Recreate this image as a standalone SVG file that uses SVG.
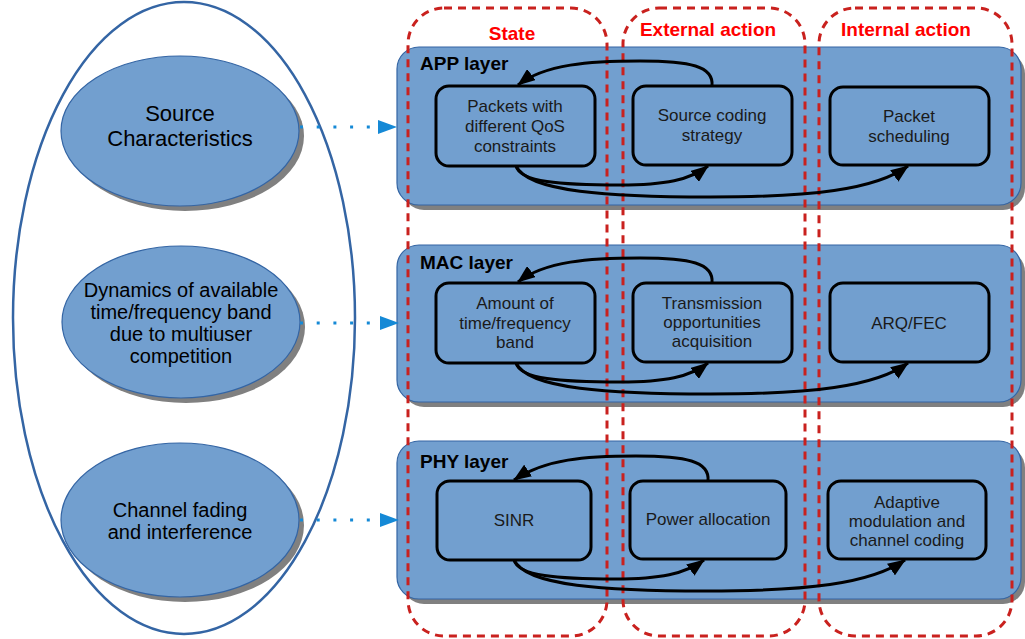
<svg xmlns="http://www.w3.org/2000/svg" width="1025" height="639" viewBox="0 0 1025 639">
<defs>
<style>
.shadow{fill:#808080}
.ell{fill:#729fcf;stroke:#3465a4;stroke-width:1.2}
.layer{fill:#729fcf;stroke:#3465a4;stroke-width:1.2}
.box{fill:#729fcf;stroke:#000;stroke-width:3}
.etxt{font-family:"Liberation Sans",Arial,sans-serif;fill:#000;text-anchor:middle}
.btxt{font-family:"Liberation Sans",Arial,sans-serif;font-size:17px;fill:#1a1a1a;text-anchor:middle}
.ltxt{font-family:"Liberation Sans",Arial,sans-serif;font-size:19px;font-weight:bold;fill:#000}
.ctxt{font-family:"Liberation Sans",Arial,sans-serif;font-size:19px;font-weight:bold;fill:#ff0000;text-anchor:middle}
.col{fill:none;stroke:#c9211e;stroke-width:3;stroke-dasharray:8 6}
.conn{fill:none;stroke:#000;stroke-width:3;marker-end:url(#ah)}
.dot{fill:none;stroke:#1589d6;stroke-width:3;stroke-dasharray:3 13.7;marker-end:url(#bh)}
</style>
<marker id="ah" viewBox="0 0 18 14" refX="17" refY="7" markerWidth="18" markerHeight="14" markerUnits="userSpaceOnUse" orient="auto">
<path d="M0,0 L18,7 L0,14 z" fill="#000"/>
</marker>
<marker id="bh" viewBox="0 0 19 14" refX="19" refY="7" markerWidth="19" markerHeight="14" markerUnits="userSpaceOnUse" orient="auto">
<path d="M0,0 L19,7 L0,14 z" fill="#1589d6"/>
</marker>
</defs>
<rect width="1025" height="639" fill="#fff"/>

<g id="outer-ellipse">
<ellipse cx="184" cy="318" rx="171" ry="316" fill="none" stroke="#3465a4" stroke-width="2.5"/>
</g>

<g id="source-char">
<ellipse class="shadow" cx="185" cy="136" rx="119" ry="75"/>
<ellipse class="ell" cx="180" cy="131" rx="119" ry="75"/>
<text class="etxt" font-size="22" x="180" y="121">Source</text>
<text class="etxt" font-size="22" x="180" y="146">Characteristics</text>
</g>
<g id="dynamics">
<ellipse class="shadow" cx="186" cy="327" rx="119" ry="76"/>
<ellipse class="ell" cx="181" cy="322" rx="119" ry="76"/>
<text class="etxt" font-size="20" x="181" y="297">Dynamics of available</text>
<text class="etxt" font-size="20" x="181" y="319">time/frequency band</text>
<text class="etxt" font-size="20" x="181" y="341">due to multiuser</text>
<text class="etxt" font-size="20" x="181" y="363">competition</text>
</g>
<g id="channel">
<ellipse class="shadow" cx="185" cy="525" rx="119" ry="77"/>
<ellipse class="ell" cx="180" cy="520" rx="119" ry="77"/>
<text class="etxt" font-size="20" x="180" y="517">Channel fading</text>
<text class="etxt" font-size="20" x="180" y="539">and interference</text>
</g>

<g id="app-layer">
<rect class="shadow" x="402" y="52" width="623" height="158" rx="22"/>
<rect class="layer" x="397" y="47" width="624" height="158" rx="22"/>
<text class="ltxt" x="420" y="70">APP layer</text>
</g>
<g id="mac-layer">
<rect class="shadow" x="402" y="250" width="623" height="157" rx="22"/>
<rect class="layer" x="397" y="245" width="624" height="157" rx="22"/>
<text class="ltxt" x="420" y="269">MAC layer</text>
</g>
<g id="phy-layer">
<rect class="shadow" x="402" y="446" width="623" height="158" rx="22"/>
<rect class="layer" x="397" y="441" width="624" height="158" rx="22"/>
<text class="ltxt" x="420" y="468">PHY layer</text>
</g>

<g id="columns">
<rect class="col" x="408" y="8" width="199" height="628" rx="36"/>
<rect class="col" x="623" y="8" width="182" height="628" rx="36"/>
<rect class="col" x="819" y="8" width="193" height="628" rx="36"/>
<text class="ctxt" x="512" y="40">State</text>
<text class="ctxt" x="708" y="36">External action</text>
<text class="ctxt" x="906" y="36">Internal action</text>
</g>

<g id="app-packets">
<rect class="box" x="436" y="86" width="159" height="80" rx="13"/>
<text class="btxt" x="515" y="112">Packets with</text>
<text class="btxt" x="515" y="132">different QoS</text>
<text class="btxt" x="515" y="152">constraints</text>
</g>
<g id="app-source-coding">
<rect class="box" x="633" y="86" width="159" height="79" rx="13"/>
<text class="btxt" x="712" y="121">Source coding</text>
<text class="btxt" x="712" y="141">strategy</text>
</g>
<g id="app-scheduling">
<rect class="box" x="830" y="87" width="159" height="78" rx="13"/>
<text class="btxt" x="909" y="122">Packet</text>
<text class="btxt" x="909" y="142">scheduling</text>
</g>

<g id="mac-amount">
<rect class="box" x="436" y="283" width="159" height="80" rx="13"/>
<text class="btxt" x="515" y="309">Amount of</text>
<text class="btxt" x="515" y="329">time/frequency</text>
<text class="btxt" x="515" y="348">band</text>
</g>
<g id="mac-transmission">
<rect class="box" x="633" y="283" width="159" height="79" rx="13"/>
<text class="btxt" x="712" y="309">Transmission</text>
<text class="btxt" x="712" y="328">opportunities</text>
<text class="btxt" x="712" y="347">acquisition</text>
</g>
<g id="mac-arqfec">
<rect class="box" x="830" y="283" width="159" height="79" rx="13"/>
<text class="btxt" x="909" y="329">ARQ/FEC</text>
</g>

<g id="phy-sinr">
<rect class="box" x="437" y="481" width="154" height="79" rx="13"/>
<text class="btxt" x="514" y="526">SINR</text>
</g>
<g id="phy-power">
<rect class="box" x="630" y="481" width="156" height="78" rx="13"/>
<text class="btxt" x="708" y="525">Power allocation</text>
</g>
<g id="phy-adaptive">
<rect class="box" x="828" y="481" width="158" height="78" rx="13"/>
<text class="btxt" x="907" y="508">Adaptive</text>
<text class="btxt" x="907" y="527">modulation and</text>
<text class="btxt" x="907" y="546">channel coding</text>
</g>

<g id="connectors">
<path class="dot" d="M300,127 L397,127"/>
<path class="dot" d="M300,323 L399,323"/>
<path class="dot" d="M300,520 L399,520"/>

<path class="conn" d="M712,86 C714,66 690,61 640,61 C590,61 545,64 518,85"/>
<path class="conn" d="M516,166 C520,182 560,185 620,185 C665,185 690,180 708,166"/>
<path class="conn" d="M516,166 C528,192 610,197 710,197 C810,197 875,190 908,166"/>

<path class="conn" d="M712,283 C714,263 690,258 640,258 C590,258 545,261 518,282"/>
<path class="conn" d="M516,363 C520,379 560,382 620,382 C665,382 690,377 708,363"/>
<path class="conn" d="M516,363 C528,389 610,394 710,394 C810,394 875,387 908,363"/>

<path class="conn" d="M708,481 C710,461 686,456 636,456 C586,456 545,459 514,480"/>
<path class="conn" d="M514,560 C518,576 558,579 615,579 C660,579 685,574 704,560"/>
<path class="conn" d="M514,560 C526,586 606,591 706,591 C806,591 870,584 905,560"/>
</g>
</svg>
